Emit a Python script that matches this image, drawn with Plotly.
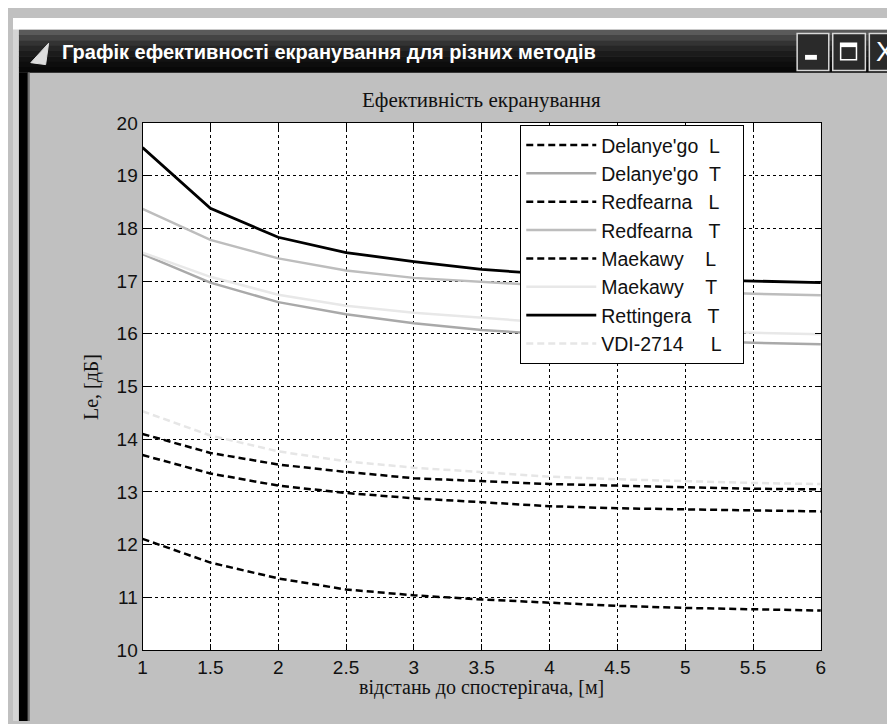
import plotly.graph_objects as go

W, H = 895, 724

# ---- data ----
distance = [1, 1.5, 2, 2.5, 3, 3.5, 4, 4.5, 5, 5.5, 6]

delanye_L = [13.70, 13.35, 13.12, 12.98, 12.88, 12.81, 12.73, 12.69, 12.67, 12.65, 12.63]
delanye_T = [17.51, 16.97, 16.60, 16.37, 16.20, 16.07, 15.99, 15.93, 15.87, 15.83, 15.80]
redfearna_L = [14.10, 13.74, 13.52, 13.38, 13.26, 13.20, 13.15, 13.12, 13.09, 13.06, 13.05]
redfearna_T = [18.37, 17.78, 17.43, 17.20, 17.06, 16.98, 16.91, 16.85, 16.80, 16.76, 16.73]
maekawy_L = [12.11, 11.66, 11.36, 11.15, 11.04, 10.96, 10.90, 10.84, 10.80, 10.77, 10.75]
maekawy_T = [17.54, 17.08, 16.74, 16.53, 16.40, 16.30, 16.21, 16.13, 16.07, 16.02, 15.99]
rettingera_T = [19.53, 18.38, 17.83, 17.54, 17.37, 17.22, 17.13, 17.07, 17.03, 17.00, 16.97]
vdi_L = [14.53, 14.07, 13.77, 13.58, 13.46, 13.37, 13.29, 13.24, 13.20, 13.17, 13.15]

NB = "\u00a0"
series_names = [
    "Delanye'go" + NB * 2 + "L" + NB * 3,
    "Delanye'go" + NB * 2 + "T" + NB * 3,
    "Redfearna" + NB * 3 + "L" + NB * 3,
    "Redfearna" + NB * 3 + "T" + NB * 3,
    "Maekawy" + NB * 4 + "L" + NB * 3,
    "Maekawy" + NB * 4 + "T" + NB * 3,
    "Rettingera" + NB * 3 + "T" + NB * 3,
    "VDI-2714" + NB * 5 + "L" + NB * 3,
]
series_values = [delanye_L, delanye_T, redfearna_L, redfearna_T,
                 maekawy_L, maekawy_T, rettingera_T, vdi_L]

x_ticks = [1, 1.5, 2, 2.5, 3, 3.5, 4, 4.5, 5, 5.5, 6]
x_tick_labels = ["1", "1.5", "2", "2.5", "3", "3.5", "4", "4.5", "5", "5.5", "6"]
y_ticks = [10, 11, 12, 13, 14, 15, 16, 17, 18, 19, 20]
y_tick_labels = [str(v) for v in y_ticks]

window_title = "Графік ефективності екранування для різних методів"
chart_title = "Ефективність екранування"
x_title = "відстань до спостерігача, [м]"
y_title = "Le, [дБ]"

# ---- styles ----
DASH = "7px,4px"
styles = [
    dict(color="#000000", dash=DASH, width=2.5),
    dict(color="#a9a9a9", dash="solid", width=2.5),
    dict(color="#000000", dash=DASH, width=2.5),
    dict(color="#bdbdbd", dash="solid", width=2.5),
    dict(color="#000000", dash=DASH, width=2.5),
    dict(color="#e8e8e8", dash="solid", width=2.5),
    dict(color="#000000", dash="solid", width=2.8),
    dict(color="#e6e6e6", dash=DASH, width=2.5),
]

fig = go.Figure()
for name, vals, st in zip(series_names, series_values, styles):
    fig.add_trace(go.Scatter(x=distance, y=vals, mode="lines", name=name,
                             line=dict(color=st["color"], dash=st["dash"], width=st["width"])))

# plot area in pixels
px0, px1 = 131, 817
py0, py1 = 108, 651

sans = "Liberation Sans, Arial, sans-serif"
serif = "Liberation Serif, Times New Roman, serif"

axis_common = dict(
    showline=True, linecolor="black", linewidth=1, mirror="ticks",
    ticks="inside", ticklen=6, tickcolor="black", tickwidth=1,
    showgrid=True, gridcolor="black", gridwidth=1, griddash="dot",
    zeroline=False,
    tickfont=dict(family=sans, size=19, color="#111111"),
)

fig.update_layout(
    width=W, height=H,
    margin=dict(l=0, r=0, t=0, b=0),
    paper_bgcolor="#c0c0c0",
    plot_bgcolor="white",
    xaxis=dict(domain=[px0 / W, px1 / W], range=[1, 6], tickmode="array",
               tickvals=x_ticks, ticktext=x_tick_labels, **axis_common),
    yaxis=dict(domain=[1 - py1 / H, 1 - py0 / H], range=[10, 20], tickmode="array",
               tickvals=y_ticks, ticktext=y_tick_labels, **axis_common),
    legend=dict(
        x=513 / W, y=1 - 110 / H, xanchor="left", yanchor="top",
        bgcolor="white", bordercolor="black", borderwidth=1,
        font=dict(family=sans, size=19.5, color="#111111"),
        itemwidth=70,
    ),
    showlegend=True,
)

fig.add_annotation(text=chart_title, xref="paper", yref="paper", x=474 / W, y=1 - 84 / H,
                   xanchor="center", yanchor="middle", showarrow=False,
                   font=dict(family=serif, size=21, color="#111111"))
fig.add_annotation(text=x_title, xref="paper", yref="paper", x=474 / W, y=1 - 690 / H,
                   xanchor="center", yanchor="middle", showarrow=False,
                   font=dict(family=serif, size=20, color="#111111"))
fig.add_annotation(text=y_title, xref="paper", yref="paper", x=80 / W, y=1 - 380 / H,
                   xanchor="center", yanchor="middle", showarrow=False, textangle=-90,
                   font=dict(family=serif, size=20, color="#111111"))

# ---- window chrome ----
def prect(x0, y0, x1, y1, **kw):
    fig.add_shape(type="rect", xref="paper", yref="paper",
                  x0=x0 / W, x1=x1 / W, y0=1 - y1 / H, y1=1 - y0 / H, **kw)

TB0, TB1 = 12, 56   # title bar top / bottom
WX0 = 6             # window left edge
prect(0, 0, W, TB0, fillcolor="white", line=dict(width=0))
prect(0, TB0, WX0, H, fillcolor="#d4d4d4", line=dict(width=0))
bar_cols = ["#5a5a5a", "#444444", "#333333", "#262626", "#1b1b1b", "#131313", "#0d0d0d", "#080808"]
step = (TB1 - TB0) / len(bar_cols)
for i, c in enumerate(bar_cols):
    prect(WX0, TB0 + i * step, W, TB0 + (i + 1) * step + 0.5, fillcolor=c, line=dict(width=0))
prect(WX0, TB1, WX0 + 9, H, fillcolor="black", line=dict(width=0))
prect(WX0 + 9, TB1, WX0 + 11, H, fillcolor="#6f6f6f", line=dict(width=0))

# buttons
for bx0, bx1 in [(793, 825), (829, 862), (866, 900)]:
    prect(bx0, 16, bx1, 54, fillcolor="#2a2a2a", line=dict(color="#d8d8d8", width=1.5))
prect(801, 38, 813, 43, fillcolor="white", line=dict(width=0))
prect(837, 26, 853, 43, fillcolor="rgba(0,0,0,0)", line=dict(color="white", width=1.5))
prect(837, 26, 853, 30, fillcolor="white", line=dict(width=0))
fig.add_annotation(text="X", xref="paper", yref="paper", x=882 / W, y=1 - 35 / H,
                   xanchor="center", yanchor="middle", showarrow=False,
                   font=dict(family=sans, size=27, color="white"))
# icon
fig.add_shape(type="path", xref="paper", yref="paper",
              path="M %f %f L %f %f L %f %f Z" % (18 / W, 1 - 46 / H, 36 / W, 1 - 26 / H, 33 / W, 1 - 48 / H),
              fillcolor="#dcdcdc", line=dict(color="#dcdcdc", width=1))

fig.add_annotation(text="<b>" + window_title + "</b>", xref="paper", yref="paper",
                   x=48 / W, y=1 - 35 / H, xanchor="left", yanchor="middle", showarrow=False,
                   font=dict(family=sans, size=20, color="white"))

fig.write_html("out.html")
